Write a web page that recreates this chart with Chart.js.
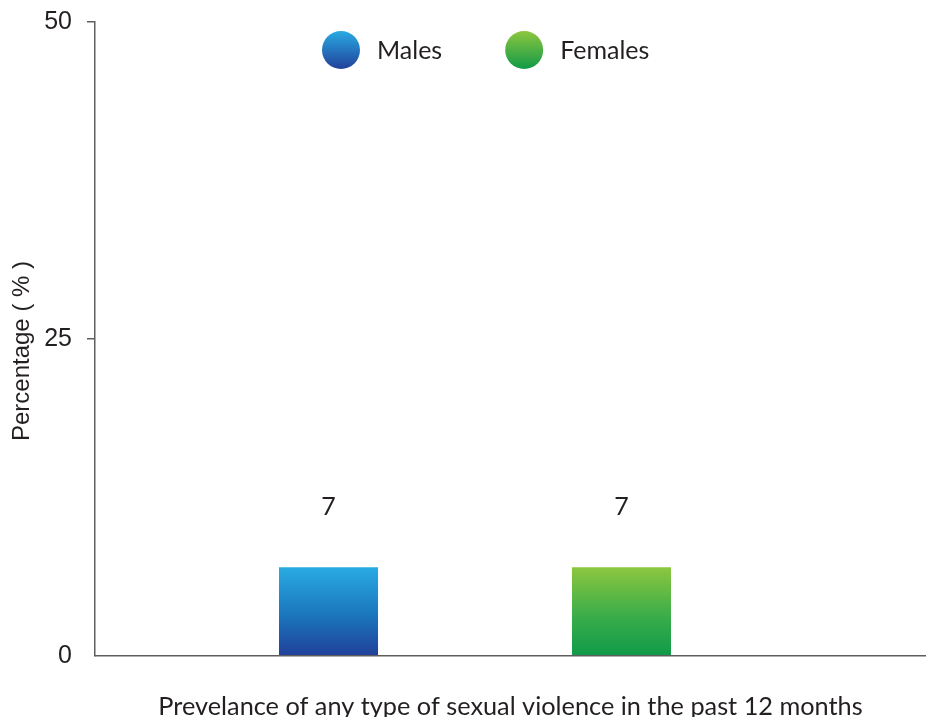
<!DOCTYPE html>
<html>
<head>
<meta charset="utf-8">
<script src="https://cdn.jsdelivr.net/npm/chart.js@4/dist/chart.umd.min.js"></script>
<style>
  html, body { margin: 0; padding: 0; background: #ffffff; }
  #wrap { width: 926px; height: 717px; position: relative; }
</style>
</head>
<body>
<div id="wrap"><canvas id="chart"></canvas></div>
<script>
// Chart data
const categories = ['Prevelance of any type of sexual violence in the past 12 months'];
const seriesNames = ['Males', 'Females'];
const malesValues = [7];
const femalesValues = [7];
const yTickValues = [0, 25, 50];
const yAxisTitle = 'Percentage ( % )';

// Styling
const textColor = '#231F20';
const axisColor = '#5e5e5e';
const gradientStops = {
  Males:   [[0, '#29abe2'], [0.55, '#1b75bb'], [1, '#21409a']],
  Females: [[0, '#8dc63f'], [0.55, '#3aad4a'], [1, '#109a48']]
};

function barGradient(name) {
  return (context) => {
    const chart = context.chart;
    if (!chart.chartArea) return gradientStops[name][1][1];
    const y = chart.scales.y;
    const value = context.raw == null ? 0 : context.raw;
    const top = y.getPixelForValue(value);
    const bottom = y.getPixelForValue(0);
    const g = chart.ctx.createLinearGradient(0, top, 0, bottom);
    gradientStops[name].forEach(([o, c]) => g.addColorStop(o, c));
    return g;
  };
}

// Value labels above each bar
const valueLabels = {
  id: 'valueLabels',
  afterDatasetsDraw(chart) {
    const ctx = chart.ctx;
    ctx.save();
    ctx.font = '25px Lato';
    ctx.fillStyle = textColor;
    ctx.textAlign = 'center';
    ctx.textBaseline = 'middle';
    chart.data.datasets.forEach((ds, i) => {
      chart.getDatasetMeta(i).data.forEach((bar, j) => {
        ctx.fillText(String(ds.data[j]), bar.x, bar.y - 60);
      });
    });
    ctx.restore();
  }
};

// Legend with gradient circle markers
const circleLegend = {
  id: 'circleLegend',
  afterDraw(chart) {
    const ctx = chart.ctx;
    const r = 19;
    const cy = 50;
    let x = chart.chartArea.left + 227;
    ctx.save();
    ctx.font = '25px Lato';
    ctx.textBaseline = 'alphabetic';
    ctx.textAlign = 'left';
    chart.data.datasets.forEach((ds) => {
      const g = ctx.createLinearGradient(0, cy - r, 0, cy + r);
      const stops = gradientStops[ds.label];
      g.addColorStop(0, stops[0][1]);
      g.addColorStop(1, stops[2][1]);
      ctx.beginPath();
      ctx.arc(x + r, cy, r, 0, Math.PI * 2);
      ctx.fillStyle = g;
      ctx.fill();
      const tx = x + 2 * r + 17;
      ctx.fillStyle = textColor;
      ctx.fillText(ds.label, tx, cy + 9);
      x = tx + ctx.measureText(ds.label).width + 63;
    });
    ctx.restore();
  }
};

// Rotated y-axis title, and the x-axis baseline run out to the canvas edge
const axisDecor = {
  id: 'axisDecor',
  afterDraw(chart) {
    const { ctx, chartArea } = chart;
    ctx.save();
    ctx.strokeStyle = axisColor;
    ctx.lineWidth = 1.5;
    ctx.beginPath();
    const y = Math.round(chartArea.bottom - 0.75) + 0.75;
    ctx.moveTo(chartArea.left, y);
    ctx.lineTo(chart.width, y);
    ctx.stroke();

    ctx.translate(22, (chartArea.top + chartArea.bottom) / 2 + 12);
    ctx.rotate(-Math.PI / 2);
    ctx.font = '24px "Liberation Sans"';
    ctx.fillStyle = textColor;
    ctx.textAlign = 'center';
    ctx.textBaseline = 'middle';
    ctx.fillText(yAxisTitle, 0, 0);
    ctx.restore();
  }
};

new Chart(document.getElementById('chart'), {
  type: 'bar',
  data: {
    labels: categories,
    datasets: [
      { label: seriesNames[0], data: malesValues, backgroundColor: barGradient('Males') },
      { label: seriesNames[1], data: femalesValues, backgroundColor: barGradient('Females') }
    ]
  },
  options: {
    responsive: true,
    maintainAspectRatio: false,
    animation: false,
    layout: { padding: { top: 22, right: 71, bottom: 0, left: 0 } },
    datasets: { bar: { barPercentage: 0.338, categoryPercentage: 0.771 } },
    plugins: {
      legend: { display: false },
      tooltip: { enabled: false }
    },
    scales: {
      x: {
        afterFit: (scale) => { scale.height = 61; scale.paddingLeft = 0; scale.paddingRight = 0; },
        grid: { display: true, drawOnChartArea: false, drawTicks: false, color: 'rgba(0,0,0,0)' },
        border: { display: false },
        ticks: {
          color: textColor,
          font: { family: 'Lato', size: 25.3 },
          padding: 36,
          labelOffset: 35.5,
          maxRotation: 0,
          autoSkip: false
        }
      },
      y: {
        min: 0,
        max: 50,
        afterFit: (scale) => { scale.width = 95; scale.paddingTop = 0; scale.paddingBottom = 0; },
        afterBuildTicks: (scale) => { scale.ticks = yTickValues.map(v => ({ value: v })); },
        grid: {
          display: true,
          drawOnChartArea: false,
          drawTicks: true,
          tickLength: 8,
          lineWidth: 1.5,
          color: (c) => (c.tick && c.tick.value === 0) ? 'rgba(0,0,0,0)' : axisColor
        },
        border: { display: true, color: axisColor, width: 1.5 },
        ticks: {
          color: textColor,
          font: { family: 'Liberation Sans', size: 25 },
          padding: 15
        }
      }
    }
  },
  plugins: [valueLabels, circleLegend, axisDecor]
});
</script>
</body>
</html>
